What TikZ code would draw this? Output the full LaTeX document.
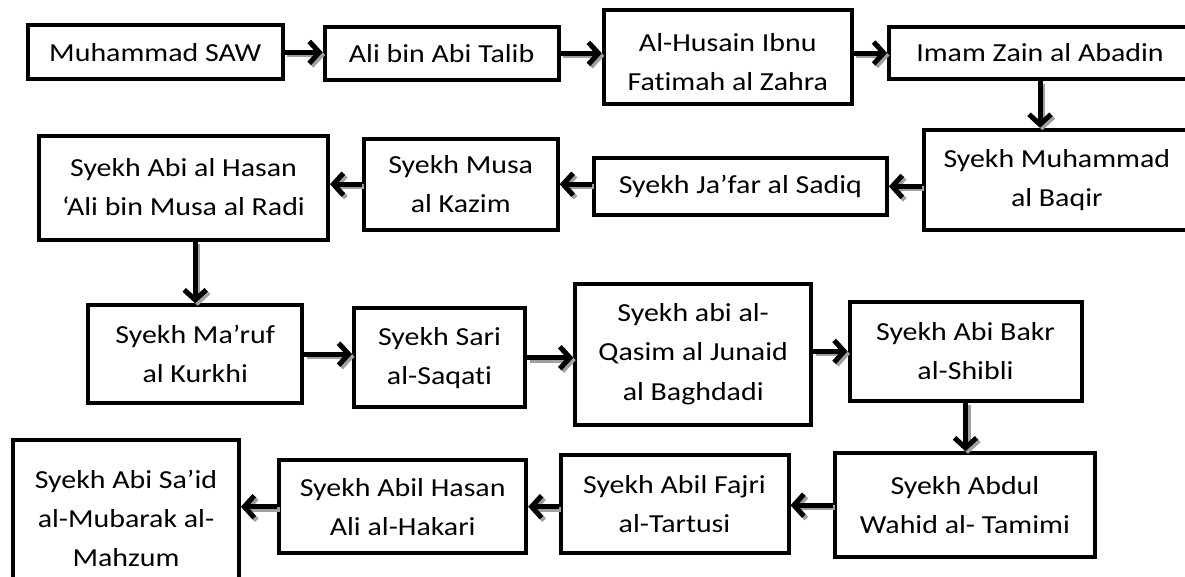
\documentclass[tikz,border=0pt]{standalone}
\usepackage{fontspec}
\setmainfont[Ligatures=NoCommon, FakeStretch=1.15]{Carlito}
\usetikzlibrary{arrows.meta}
\definecolor{shade}{HTML}{A0A0A0}
\tikzset{
  chain/.style={draw=black, line width=4pt, inner sep=0pt, align=center,
    font=\fontsize{26}{39}\selectfont},
  label text/.style={inner sep=0pt, align=center, font=\fontsize{26}{39}\selectfont},
  link/.style={line width=5pt, -{Straight Barb[length=10pt,width=22pt]}},
  link shadow/.style={link, draw=shade, transform canvas={xshift=2.5pt,yshift=-2.5pt}},
}
\newcommand\linkto[1]{\draw[link shadow] #1; \draw[link] #1;}
\begin{document}
\begin{tikzpicture}[x=1pt,y=-1pt]
\useasboundingbox (0,0) rectangle (1185,576);
\clip (0,0) rectangle (1185,576);
% first row, left to right
\node[chain, minimum width=255pt, minimum height=54pt] (m) at (155.3,52.4) {Muhammad SAW};
\node[chain, minimum width=234pt, minimum height=53pt] (ali) at (441.6,53.4) {Ali bin Abi Talib};
\node[chain, minimum width=248pt, minimum height=94pt] (hus) at (727.8,57.2) {};
\node[label text] (hustext) at (727.8,62) {Al-Husain Ibnu\\Fatimah al Zahra};
\node[chain, minimum width=302pt, minimum height=52pt] (imam) at (1040,53) {Imam Zain al Abadin};
% second row, right to left
\node[chain, minimum width=266pt, minimum height=100pt] (baqir) at (1056.8,179.7) {Syekh Muhammad\\al Baqir};
\node[chain, minimum width=293pt, minimum height=57pt] (jafar) at (740.4,186.4) {Syekh Ja’far al Sadiq};
\node[chain, minimum width=194pt, minimum height=91pt] (musa) at (460.7,184.2) {Syekh Musa\\al Kazim};
\node[chain, minimum width=289pt, minimum height=104pt] (hasan) at (183.5,187.5) {Syekh Abi al Hasan\\‘Ali bin Musa al Radi};
% third row, left to right
\node[chain, minimum width=214pt, minimum height=98pt] (maruf) at (195.2,354.2) {Syekh Ma’ruf\\al Kurkhi};
\node[chain, minimum width=171pt, minimum height=99pt] (sari) at (439.5,357.7) {Syekh Sari\\al-Saqati};
\node[chain, minimum width=236pt, minimum height=141pt] (junaid) at (693.2,354.2) {Syekh abi al-\\Qasim al Junaid\\al Baghdadi};
\node[chain, minimum width=232pt, minimum height=99pt] (shibli) at (965.5,351.4) {Syekh Abi Bakr\\al-Shibli};
% fourth row, right to left
\node[chain, minimum width=260pt, minimum height=104pt] (wahid) at (964.9,505.2) {Syekh Abdul\\Wahid al- Tamimi};
\node[chain, minimum width=228pt, minimum height=98pt] (fajri) at (674.5,504.2) {Syekh Abil Fajri\\al-Tartusi};
\node[chain, minimum width=247pt, minimum height=93pt] (abil) at (402.7,506.7) {Syekh Abil Hasan\\Ali al-Hakari};
\node[chain, minimum width=226pt, minimum height=178pt] (said) at (125.9,529) {};
\node[label text] (saidtext) at (126,518) {Syekh Abi Sa’id\\al-Mubarak al-\\Mahzum};
% connectors
\linkto{(m.east) -- (m.east -| ali.west)}
\linkto{(ali.east) -- (ali.east -| hus.west)}
\linkto{(hus.east |- imam.west) -- (imam.west)}
\linkto{(imam.south) -- (imam.south |- baqir.north)}
\linkto{(baqir.west |- jafar.east) -- (jafar.east)}
\linkto{(jafar.west |- musa.east) -- (musa.east)}
\linkto{(musa.west) -- (musa.west -| hasan.east)}
\linkto{(hasan.south -| maruf.north) -- (maruf.north)}
\linkto{(maruf.east) -- (maruf.east -| sari.west)}
\linkto{(sari.east) -- (sari.east -| junaid.west)}
\linkto{(junaid.east |- shibli.west) -- (shibli.west)}
\linkto{(shibli.south) -- (shibli.south |- wahid.north)}
\linkto{(wahid.west) -- (wahid.west -| fajri.east)}
\linkto{(fajri.west |- abil.east) -- (abil.east)}
\linkto{(abil.west) -- (abil.west -| said.east)}
\end{tikzpicture}
\end{document}
